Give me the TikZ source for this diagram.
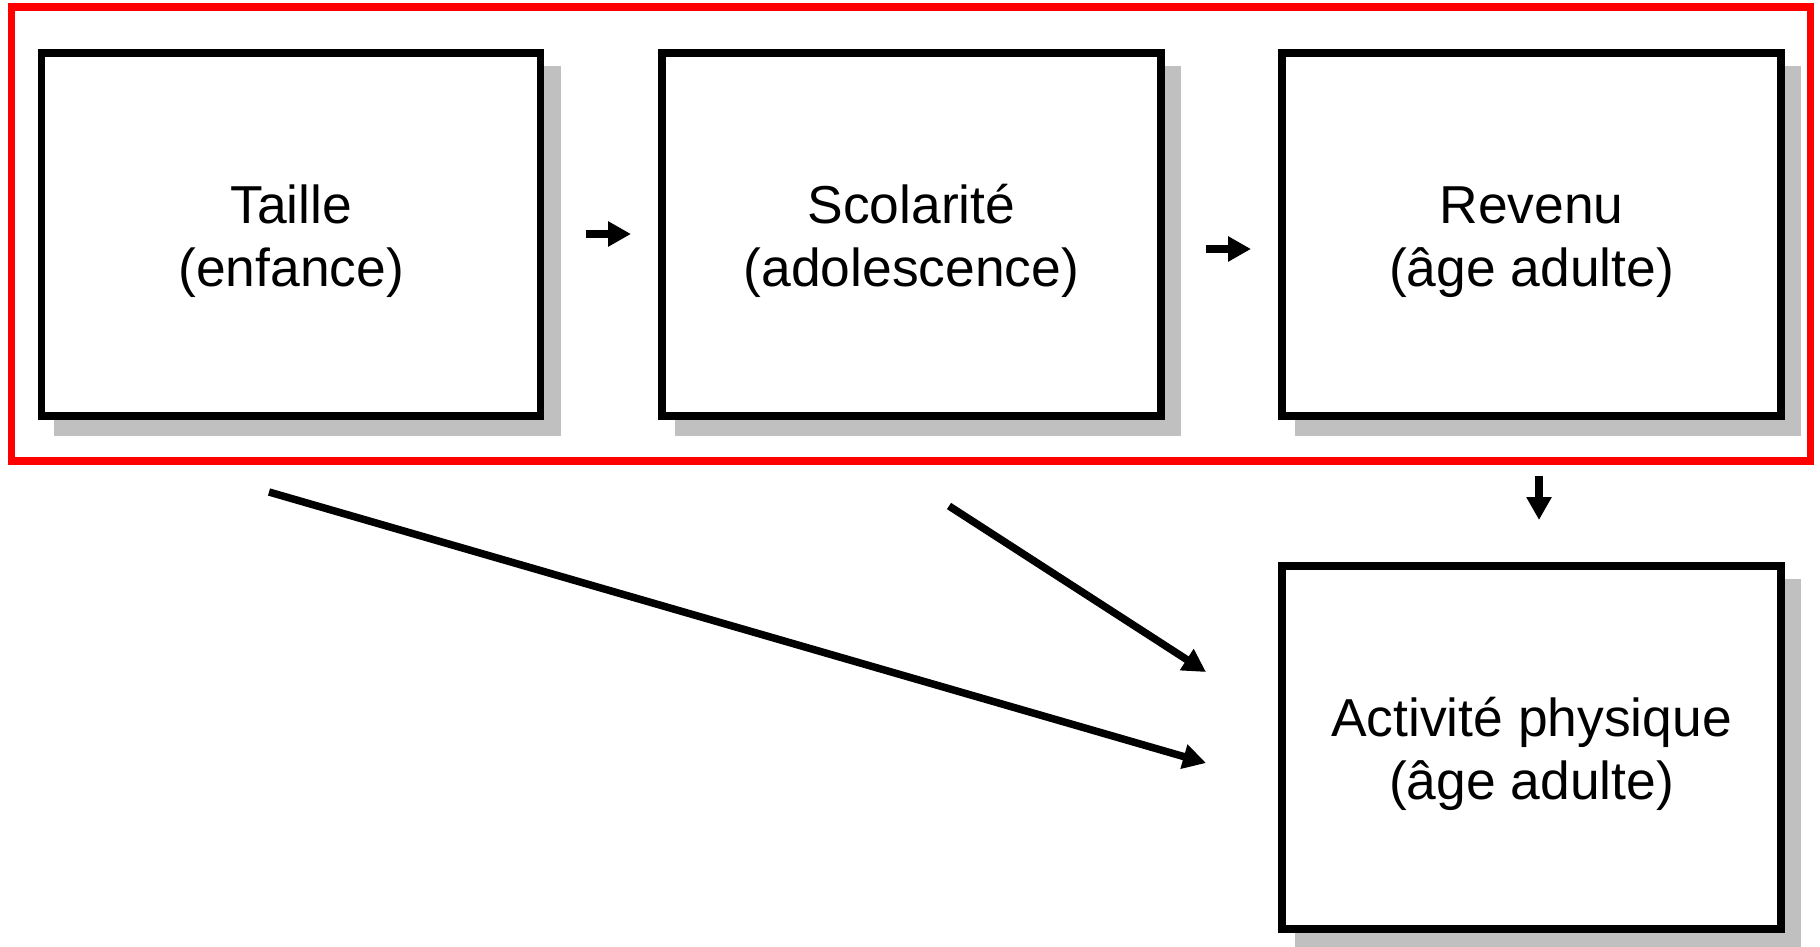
\documentclass[tikz,border=0pt]{standalone}
\usepackage{fontspec}
\setmainfont{Liberation Sans}
\usetikzlibrary{arrows.meta,calc,backgrounds}
\definecolor{shadowgray}{HTML}{C0C0C0}
\definecolor{framered}{HTML}{FF0000}
\begin{document}
\begin{tikzpicture}[x=1pt,y=-1pt,
  box/.style={draw=black, line width=7.5pt, fill=white, minimum width=499pt, minimum height=363pt, inner sep=0pt, outer sep=0pt},
  lbl/.style={align=center, font=\fontsize{53.4}{63}\selectfont, inner sep=0pt, outer sep=0pt},
  arr/.style={line width=7.5pt, -{Triangle[length=23pt,width=24pt]}},
  shade/.style={fill=shadowgray},
  grpframe/.style={draw=framered, line width=7.5pt, minimum width=1799pt, minimum height=454pt, inner sep=0pt, outer sep=0pt}
]
\useasboundingbox (0,0) rectangle (1820,946);
\clip (0,0) rectangle (1820,946);

% group frame
\node[grpframe] (grp) at (911,234) {};

% boxes
\node[box] (b1) at (291.2,234.5) {};
\node[box] (b2) at (911.5,234.5) {};
\node[box] (b3) at (1531.5,234.5) {};
\node[box] (b4) at (1531.5,747.6) {};

% shadows
\begin{scope}[on background layer]
  \fill[white] (0,0) rectangle (1820,946);
  \foreach \b in {b1,b2,b3,b4}{
    \fill[shade] ([shift={(12.75,12.75)}]\b.north west) rectangle ([shift={(20.25,20.25)}]\b.south east);
  }
\end{scope}

% labels
\node[lbl] (t1) at ($(b1.center)+(0,3.9)$) {\rule{0pt}{44pt}Taille\\(enfance)};
\node[lbl] (t2) at ($(b2.center)+(0,3.9)$) {\rule{0pt}{44pt}Scolarité\\(adolescence)};
\node[lbl] (t3) at ($(b3.center)+(0,3.9)$) {\rule{0pt}{44pt}Revenu\\(âge adulte)};
\node[lbl] (t4) at ($(b4.center)+(0,3.9)$) {\rule{0pt}{44pt}Activité physique\\(âge adulte)};

% arrows
\coordinate (a1s) at (586,234);  \coordinate (a1e) at (631,234);
\coordinate (a2s) at (1206,249); \coordinate (a2e) at (1251,249);
\coordinate (a3s) at (1539,476); \coordinate (a3e) at (1539,520);
\coordinate (a4s) at (269,492);  \coordinate (a4e) at (1206,763);
\coordinate (a5s) at (949,506);  \coordinate (a5e) at (1206,672);
\draw[arr] (a1s) -- (a1e);
\draw[arr] (a2s) -- (a2e);
\draw[arr] (a3s) -- (a3e);
\draw[arr] (a4s) -- (a4e);
\draw[arr] (a5s) -- (a5e);
\end{tikzpicture}
\end{document}
